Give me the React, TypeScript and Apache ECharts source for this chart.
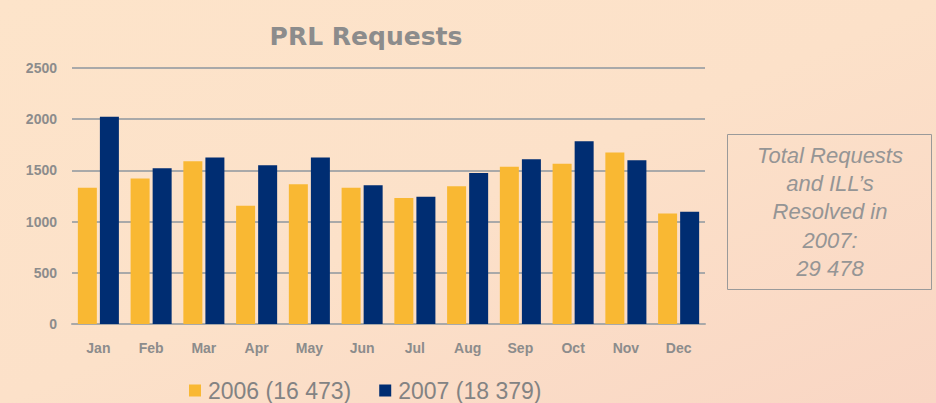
import React, { useEffect, useRef } from "react";
import * as echarts from "echarts";

const categories = ["Jan", "Feb", "Mar", "Apr", "May", "Jun", "Jul", "Aug", "Sep", "Oct", "Nov", "Dec"];
const values2006 = [1330, 1420, 1590, 1155, 1365, 1330, 1230, 1345, 1535, 1565, 1675, 1080];
const values2007 = [2025, 1520, 1625, 1550, 1625, 1355, 1243, 1475, 1610, 1785, 1598, 1095];
const seriesNames = ["2006 (16 473)", "2007 (18 379)"];
const yTicks = { min: 0, max: 2500, interval: 500 };
const boxLines = ["Total Requests", "and ILL\u2019s", "Resolved in", "2007:", "29 478"];
const titleText = "PRL Requests";

export default function App() {
  const ref = useRef<HTMLDivElement>(null);
  useEffect(() => {
    document.body.style.margin = "0";
    const chart = echarts.init(ref.current!, null, { renderer: "svg" });
    const gray = "#8c8c8c";
    chart.setOption({
      animation: false,
      backgroundColor: {
        type: "linear",
        x: 0,
        y: 0,
        x2: 1,
        y2: 1,
        colorStops: [
          { offset: 0, color: "#fde4ca" },
          { offset: 0.5, color: "#fce1c9" },
          { offset: 1, color: "#f9d6c4" },
        ],
      },
      title: {
        text: titleText,
        left: 361,
        top: 19,
        textAlign: "center",
        textStyle: {
          fontFamily: "DejaVu Sans",
          fontWeight: "bold",
          fontSize: 25,
          color: gray,
        },
      },
      legend: {
        left: 184,
        top: 374,
        itemWidth: 12,
        itemHeight: 12,
        itemGap: 28,
        icon: "rect",
        textStyle: {
          fontFamily: "Liberation Sans",
          fontSize: 23,
          color: "#838383",
          padding: [0, 0, 0, 2],
        },
        data: seriesNames,
      },
      grid: { left: 72, right: 231, top: 68, bottom: 79 },
      xAxis: {
        type: "category",
        data: categories,
        axisTick: { show: false },
        axisLine: { lineStyle: { color: "#a9a9a9", width: 2 } },
        axisLabel: {
          margin: 17,
          fontFamily: "Liberation Sans",
          fontWeight: "bold",
          fontSize: 14,
          color: gray,
        },
      },
      yAxis: {
        type: "value",
        min: yTicks.min,
        max: yTicks.max,
        interval: yTicks.interval,
        axisLine: { show: false },
        axisTick: { show: false },
        splitLine: { lineStyle: { color: "#a9a9a9", width: 2 } },
        axisLabel: {
          margin: 15,
          fontFamily: "Liberation Sans",
          fontWeight: "bold",
          fontSize: 14,
          color: gray,
          formatter: (v: number) => String(v),
        },
      },
      series: [
        {
          name: seriesNames[0],
          type: "bar",
          data: values2006,
          barWidth: 19,
          barGap: "16%",
          itemStyle: { color: "#f9b833" },
        },
        {
          name: seriesNames[1],
          type: "bar",
          data: values2007,
          barWidth: 19,
          barGap: "16%",
          itemStyle: { color: "#002d72" },
        },
      ],
      graphic: [
        {
          type: "rect",
          shape: { x: 727.5, y: 134.5, width: 204, height: 155 },
          style: { fill: "none", stroke: "#9a9a9a", lineWidth: 1 },
        },
        {
          type: "text",
          x: 830,
          y: 141,
          style: {
            text: boxLines.join("\n"),
            fontFamily: "Liberation Sans",
            fontStyle: "italic",
            fontSize: 22,
            lineHeight: 28.3,
            fill: "#959595",
            align: "center",
            verticalAlign: "top",
          },
        },
      ],
    });
    return () => chart.dispose();
  }, []);
  return <div ref={ref} style={{ position: "absolute", left: 0, top: 0, width: 936, height: 403 }} />;
}
